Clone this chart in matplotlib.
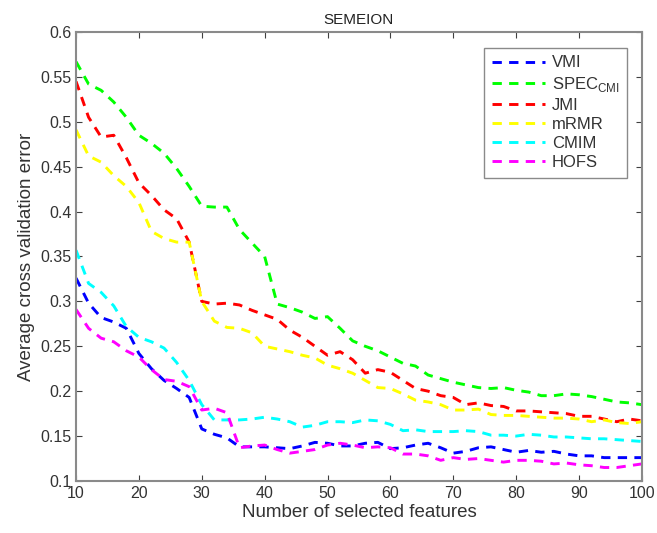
import matplotlib
matplotlib.use("Agg")
import matplotlib.pyplot as plt

plt.rcParams['font.family'] = ['Liberation Sans', 'DejaVu Sans']
plt.rcParams['mathtext.fontset'] = 'custom'
plt.rcParams['mathtext.rm'] = 'Liberation Sans'

n_features = list(range(10, 101, 2))

vmi = [0.326, 0.298, 0.282, 0.277, 0.270, 0.242, 0.225, 0.212, 0.203, 0.193,
       0.158, 0.152, 0.148, 0.138, 0.138, 0.138, 0.137, 0.136, 0.139, 0.143,
       0.142, 0.139, 0.139, 0.142, 0.143, 0.136, 0.137, 0.140, 0.142, 0.137,
       0.131, 0.133, 0.137, 0.138, 0.135, 0.132, 0.134, 0.132, 0.133, 0.130,
       0.128, 0.128, 0.126, 0.126, 0.126, 0.126]
spec_cmi = [0.567, 0.542, 0.535, 0.522, 0.505, 0.485, 0.476, 0.465, 0.448, 0.428,
            0.406, 0.405, 0.405, 0.380, 0.365, 0.350, 0.297, 0.293, 0.288, 0.281,
            0.283, 0.270, 0.256, 0.250, 0.245, 0.238, 0.231, 0.228, 0.218, 0.214,
            0.210, 0.207, 0.204, 0.203, 0.204, 0.201, 0.199, 0.195, 0.195, 0.197,
            0.196, 0.194, 0.191, 0.188, 0.187, 0.185]
jmi = [0.545, 0.505, 0.483, 0.485, 0.460, 0.432, 0.418, 0.402, 0.392, 0.366,
       0.300, 0.297, 0.298, 0.296, 0.290, 0.285, 0.280, 0.268, 0.260, 0.250,
       0.240, 0.244, 0.235, 0.220, 0.224, 0.221, 0.212, 0.203, 0.200, 0.195,
       0.193, 0.185, 0.187, 0.184, 0.183, 0.178, 0.178, 0.177, 0.176, 0.175,
       0.172, 0.172, 0.169, 0.166, 0.169, 0.167]
mrmr = [0.491, 0.462, 0.455, 0.440, 0.428, 0.410, 0.378, 0.370, 0.366, 0.366,
        0.300, 0.278, 0.271, 0.270, 0.265, 0.250, 0.247, 0.244, 0.240, 0.237,
        0.229, 0.225, 0.220, 0.212, 0.204, 0.203, 0.197, 0.190, 0.188, 0.185,
        0.179, 0.179, 0.180, 0.174, 0.173, 0.173, 0.172, 0.171, 0.170, 0.170,
        0.169, 0.166, 0.168, 0.165, 0.164, 0.166]
cmim = [0.357, 0.320, 0.310, 0.295, 0.272, 0.260, 0.255, 0.248, 0.232, 0.212,
        0.185, 0.168, 0.168, 0.168, 0.169, 0.171, 0.169, 0.166, 0.160, 0.162,
        0.166, 0.166, 0.165, 0.168, 0.167, 0.163, 0.156, 0.157, 0.155, 0.155,
        0.155, 0.156, 0.155, 0.151, 0.151, 0.150, 0.152, 0.151, 0.149, 0.149,
        0.148, 0.147, 0.147, 0.146, 0.145, 0.144]
hofs = [0.291, 0.270, 0.259, 0.255, 0.245, 0.238, 0.224, 0.213, 0.211, 0.205,
        0.179, 0.181, 0.176, 0.137, 0.139, 0.140, 0.135, 0.131, 0.133, 0.135,
        0.140, 0.142, 0.140, 0.137, 0.138, 0.137, 0.130, 0.130, 0.128, 0.123,
        0.126, 0.124, 0.125, 0.123, 0.121, 0.123, 0.123, 0.122, 0.119, 0.120,
        0.118, 0.117, 0.115, 0.115, 0.117, 0.119]

series = [
    (vmi, '#0000ff', 'VMI'),
    (spec_cmi, '#00ff00', 'SPEC$_{\\mathrm{CMI}}$'),
    (jmi, '#ff0000', 'JMI'),
    (mrmr, '#ffff00', 'mRMR'),
    (cmim, '#00ffff', 'CMIM'),
    (hofs, '#ff00ff', 'HOFS'),
]

fig = plt.figure(figsize=(6.57, 5.33), dpi=100)
ax = fig.add_axes([0.1157, 0.0976, 0.8613, 0.8424])

for vals, col, name in series:
    ax.plot(n_features, vals, color=col, lw=2.1, linestyle=(0, (3.2, 2.5)),
            dash_capstyle='butt', label=name)

ax.set_xlim(10, 100)
ax.set_ylim(0.1, 0.6)
ax.set_xticks(range(10, 101, 10))
ax.set_yticks([0.1, 0.15, 0.2, 0.25, 0.3, 0.35, 0.4, 0.45, 0.5, 0.55, 0.6])
ax.set_yticklabels(['0.1', '0.15', '0.2', '0.25', '0.3', '0.35', '0.4', '0.45', '0.5', '0.55', '0.6'])

for sp in ax.spines.values():
    sp.set_color('#8a8a8a')
    sp.set_linewidth(1.5)
ax.tick_params(direction='in', top=True, right=True, length=4, width=0.8,
               color='#404040', labelcolor='#333333', labelsize=11.5)
ax.tick_params(axis='y', pad=3)

ax.set_title('SEMEION', fontsize=11, color='#222222', pad=6)
ax.set_xlabel('Number of selected features', fontsize=13.5, color='#333333', labelpad=2)
ax.set_ylabel('Average cross validation error', fontsize=13.5, color='#333333', labelpad=4)

leg = ax.legend(loc='upper right', bbox_to_anchor=(0.9735, 0.9644), borderaxespad=0,
                fontsize=12, handlelength=3.2, handletextpad=0.4, labelspacing=0.25,
                borderpad=0.45, fancybox=False, framealpha=1)
leg.get_frame().set_edgecolor('#8a8a8a')
leg.get_frame().set_linewidth(1.0)
for t in leg.get_texts():
    t.set_color('#333333')

fig.savefig('out.png', dpi=100)
